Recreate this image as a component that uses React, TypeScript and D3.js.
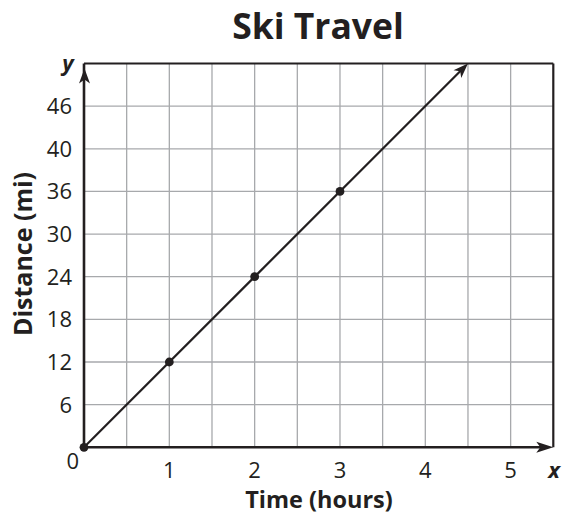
import React from "react";
import * as d3 from "d3";

const xTickValues = [1, 2, 3, 4, 5];
const xTickLabels = ["1", "2", "3", "4", "5"];
const yTickValues = [0, 6, 12, 18, 24, 30, 36, 42, 48];
const yTickLabels = ["0", "6", "12", "18", "24", "30", "36", "40", "46"];
const pointTimes = [0, 1, 2, 3];
const pointDistances = [0, 12, 24, 36];
const lineTimes = [0, 4.5];
const lineDistances = [0, 54];

const W = 562;
const H = 516;
const FONT = "'Open Sans', sans-serif";
const INK = "#231f20";
const GRID = "#a7a9ac";

function arrowHead(tipX: number, tipY: number, angle: number, len = 15, half = 5.5, notch = 4) {
  const c = Math.cos(angle), s = Math.sin(angle);
  const pt = (a: number, b: number) => [tipX - a * c + b * -s, tipY - a * s + b * c];
  const p1 = pt(len, half);
  const p2 = pt(len - notch, 0);
  const p3 = pt(len, -half);
  return `M${tipX},${tipY}L${p1[0]},${p1[1]}L${p2[0]},${p2[1]}L${p3[0]},${p3[1]}Z`;
}

export default function App() {
  const x = d3.scaleLinear().domain([0, 5.5]).range([84, 553.3]);
  const y = d3.scaleLinear().domain([0, 54]).range([447.3, 63.5]);
  const gridX = d3.range(0.5, 5.5, 0.5);
  const x0 = x(lineTimes[0]), y0 = y(lineDistances[0]);
  const x1 = x(lineTimes[1]), y1 = y(lineDistances[1]);
  const ang = Math.atan2(y1 - y0, x1 - x0);
  const shortened = [x0, y0, x1 - 10 * Math.cos(ang), y1 - 10 * Math.sin(ang)];

  return (
    <svg width={W} height={H} style={{ position: "absolute", left: 0, top: 0, background: "#fff" }} fontFamily={FONT}>
      <rect x={0} y={0} width={W} height={H} fill="#fff" />
      <text x={318} y={39} textAnchor="middle" fontSize={35.5} fontWeight={700} fill={INK}>
        Ski Travel
      </text>
      {/* grid */}
      {gridX.map((g) => (
        <line key={"gx" + g} x1={x(g)} x2={x(g)} y1={y(0)} y2={y(54)} stroke={GRID} strokeWidth={1.3} />
      ))}
      {yTickValues.slice(1).map((v) => (
        <line key={"gy" + v} x1={x(0)} x2={x(5.5)} y1={y(v)} y2={y(v)} stroke={GRID} strokeWidth={1.3} />
      ))}
      {/* frame */}
      <line x1={x(0)} x2={x(5.5)} y1={y(54)} y2={y(54)} stroke={INK} strokeWidth={2.2} />
      <line x1={x(5.5)} x2={x(5.5)} y1={y(54)} y2={y(0)} stroke={INK} strokeWidth={2.2} />
      {/* axes */}
      <line x1={x(0)} x2={x(5.5) - 8} y1={y(0)} y2={y(0)} stroke={INK} strokeWidth={2.6} />
      <path d={arrowHead(x(5.5), y(0), 0, 17, 5.5, 4)} fill={INK} />
      <line x1={x(0)} x2={x(0)} y1={y(0)} y2={y(54)} stroke={INK} strokeWidth={2.6} />
      <path d={arrowHead(x(0) + 0.5, y(54) + 5, -Math.PI / 2)} fill={INK} />
      {/* data line */}
      <path d={`M${shortened[0]},${shortened[1]}L${shortened[2]},${shortened[3]}`} stroke={INK} strokeWidth={2.2} fill="none" />
      <path d={arrowHead(x1, y1, ang, 15, 5.5, 4)} fill={INK} />
      {pointTimes.map((t, i) => (
        <circle key={"p" + i} cx={x(t)} cy={y(pointDistances[i])} r={4.4} fill={INK} />
      ))}
      {/* tick labels */}
      {yTickValues.map((v, i) =>
        i === 0 ? null : (
          <text key={"yt" + v} x={72} y={y(v)} dy="0.36em" textAnchor="end" fontSize={22} fill={INK}>
            {yTickLabels[i]}
          </text>
        )
      )}
      <text x={79} y={469} textAnchor="end" fontSize={22} fill={INK}>
        {yTickLabels[0]}
      </text>
      {xTickValues.map((v, i) => (
        <text key={"xt" + v} x={x(v)} y={478} textAnchor="middle" fontSize={22} fill={INK}>
          {xTickLabels[i]}
        </text>
      ))}
      <text x={554} y={478} textAnchor="middle" fontSize={22} fontWeight={700} fontStyle="italic" fill={INK}>
        x
      </text>
      <text x={68} y={71} textAnchor="middle" fontSize={22} fontWeight={700} fontStyle="italic" fill={INK}>
        y
      </text>
      <text x={319} y={508} textAnchor="middle" fontSize={23.5} fontWeight={700} fill={INK}>
        Time (hours)
      </text>
      <text transform="translate(32,254) rotate(-90)" textAnchor="middle" fontSize={25} fontWeight={700} fill={INK}>
        Distance (mi)
      </text>
    </svg>
  );
}
